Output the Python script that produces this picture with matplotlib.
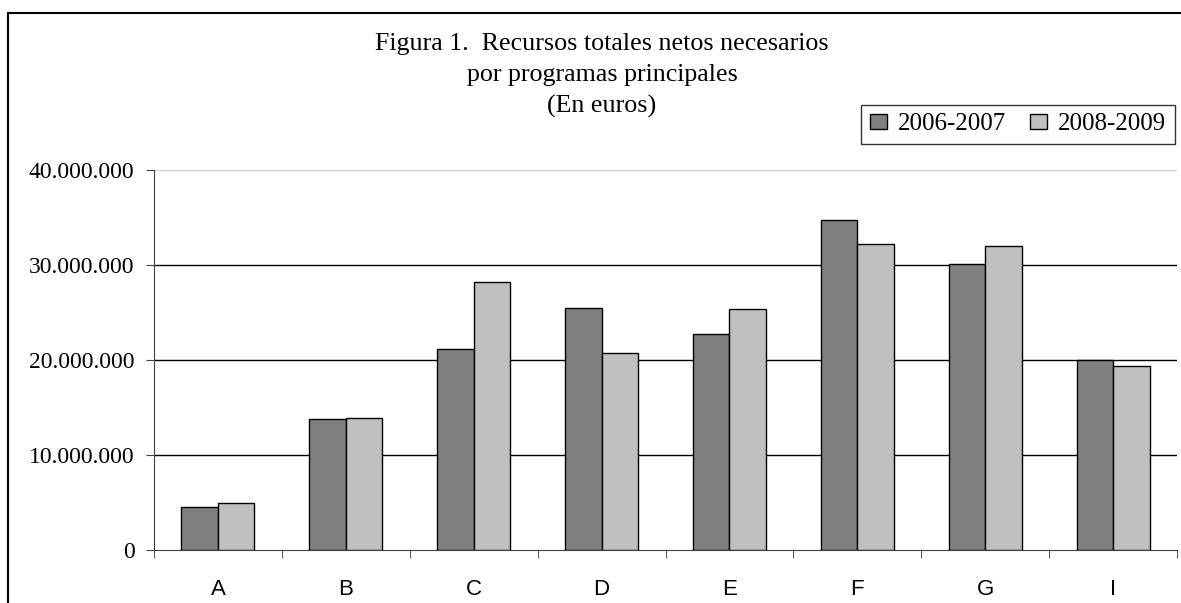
import matplotlib.pyplot as plt
import matplotlib.ticker as mticker
from matplotlib.patches import Rectangle
import numpy as np

DARK = '#808080'
LIGHT = '#c0c0c0'
SERIF = 'Liberation Serif'
SANS = 'Liberation Sans'

# Datos
programas = ['A', 'B', 'C', 'D', 'E', 'F', 'G', 'I']
serie_2006_2007 = [4550000, 13800000, 21200000, 25500000, 22700000, 34700000, 30100000, 20000000]
serie_2008_2009 = [5000000, 13950000, 28200000, 20800000, 25400000, 32200000, 32050000, 19400000]
titulo = ['Figura 1.  Recursos totales netos necesarios', 'por programas principales', '(En euros)']
leyenda = ['2006-2007', '2008-2009']

W, H = 1181, 603
fig = plt.figure(figsize=(W / 100, H / 100), dpi=100)
ax = fig.add_axes([154 / W, 1 - 550.3 / H, (1177 - 154) / W, (550.3 - 170) / H])

# Marco exterior
fig.patches.append(Rectangle((8 / W, -0.1), 1.2, 1.1 - 13 / H, transform=fig.transFigure,
                             fill=False, edgecolor='black', linewidth=1.5))

x = np.arange(len(programas))
w = 0.285
ax.bar(x - w / 2, serie_2006_2007, w, color=DARK, edgecolor='black', linewidth=1, zorder=3, label=leyenda[0])
ax.bar(x + w / 2, serie_2008_2009, w, color=LIGHT, edgecolor='black', linewidth=1, zorder=3, label=leyenda[1])

ax.set_xlim(-0.5, len(programas) - 0.5)
ax.set_ylim(0, 40000000)
ax.set_yticks(np.arange(0, 40000001, 10000000))
ax.yaxis.set_major_formatter(mticker.FuncFormatter(lambda v, p: f'{int(v):,}'.replace(',', '.')))

for v in [10000000, 20000000, 30000000]:
    ax.axhline(v, color='black', linewidth=1, zorder=1)
ax.axhline(40000000, color='#d0d0d0', linewidth=1, zorder=1)

for s in ['top', 'right']:
    ax.spines[s].set_visible(False)
ax.spines['left'].set_color('#404040')
ax.spines['bottom'].set_color('#404040')

ax.set_xticks(x)
ax.set_xticklabels(programas, fontfamily=SANS, fontsize=16)
ax.set_xticks(np.arange(-0.5, len(programas), 1), minor=True)
ax.tick_params(axis='x', which='major', length=0, pad=21)
ax.tick_params(axis='x', which='minor', length=6, direction='out', color='#404040')
ax.tick_params(axis='y', length=6, direction='out', color='#404040', pad=8)
for lab in ax.get_yticklabels():
    lab.set_fontfamily(SERIF)
    lab.set_fontsize(17)

# Título
bases = [50, 81, 113]
for t, by in zip(titulo, bases):
    fig.text(602 / W, 1 - by / H, t, ha='center', va='baseline', fontfamily=SERIF, fontsize=18.7)

leg = ax.legend(loc='lower right', bbox_to_anchor=(1175 / W, 1 - 144 / H), bbox_transform=fig.transFigure,
                ncol=2, frameon=True, fancybox=False, borderaxespad=0, handlelength=0.68, handleheight=0.6,
                handletextpad=0.45, columnspacing=0.95, borderpad=0.35,
                prop={'family': SERIF, 'size': 18})
leg.get_frame().set_edgecolor('black')
leg.get_frame().set_linewidth(1)

plt.savefig('out.png', dpi=100)
